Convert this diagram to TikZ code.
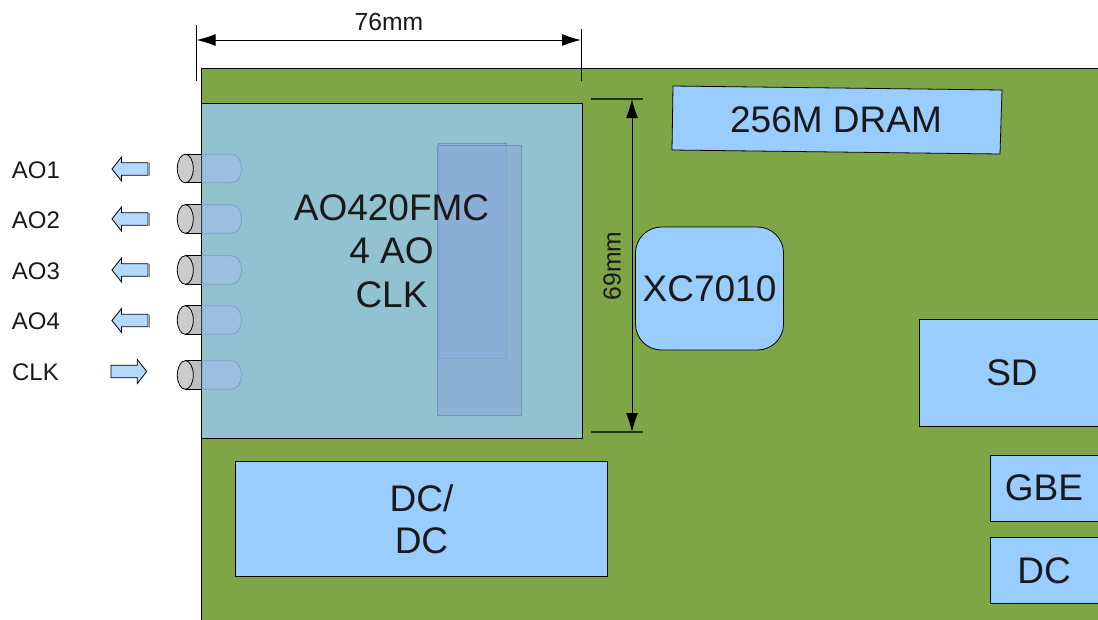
\documentclass[tikz,border=0pt]{standalone}
\usepackage{fontspec}
\setmainfont{Liberation Sans}
\usetikzlibrary{arrows.meta,shapes.arrows}
\definecolor{board}{HTML}{7EA646}
\definecolor{chip}{HTML}{99CCFF}
\definecolor{module}{HTML}{92C1CF}
\definecolor{tubein}{HTML}{9CBFE0}
\definecolor{tubeedge}{HTML}{7F9FC8}
\definecolor{arrowfill}{HTML}{B3D9FF}
\definecolor{overlay}{HTML}{8AADD6}
\tikzset{
  x=1pt,y=-1pt,
  every node/.style={outer sep=0pt},
  chipbox/.style={draw=black,line width=0.8pt,fill=chip,inner sep=0pt,align=center,font=\fontsize{37}{42}\selectfont,text=black!90},
  bigtext/.style={font=\fontsize{37}{42}\selectfont,text=black!90,inner sep=0pt},
  lab/.style={font=\fontsize{24}{28}\selectfont,text=black!90,inner sep=0pt},
  dimlab/.style={font=\fontsize{24.7}{28}\selectfont,text=black!90,inner sep=0pt},
  dimline/.style={line width=0.9pt,{Latex[length=19pt,width=12pt]}-{Latex[length=19pt,width=12pt]}},
  extline/.style={line width=1pt,black},
  extdark/.style={line width=1.2pt,black!70!board},
  panel/.style={line width=0.8pt,draw=overlay!85!black,fill=overlay,fill opacity=.7},
  flow/.style={draw=black,line width=0.8pt,fill=arrowfill},
}
\newcommand{\tube}[2]{% name, centre y
  \fill[black!25] (185,#2-14.3) rectangle (202,#2+14.3);
  \draw[line width=0.8pt] (185,#2-14.3) -- (202,#2-14.3) (185,#2+14.3) -- (202,#2+14.3);
  \draw[line width=0.8pt,fill=black!20] (#1) ellipse [x radius=8,y radius=14.3];
}
\newcommand{\tubeinner}[1]{%
  \draw[line width=0.8pt,draw=tubeedge,fill=tubein] (202,#1-14.3) -- (231,#1-14.3) .. controls (245,#1-14.3) and (245,#1+14.3) .. (231,#1+14.3) -- (202,#1+14.3) -- cycle;
}
\newcommand{\flowleft}[1]{%
  \draw[black!45,line width=1pt] (149,#1-6) -- (149,#1+7);
  \draw[flow] (148,#1-6.2) -- (121.5,#1-6.2) -- (121.5,#1-12) -- (112,#1) -- (121.5,#1+12) -- (121.5,#1+6.2) -- (148,#1+6.2) -- cycle;
}
\begin{document}
\begin{tikzpicture}
\useasboundingbox (0,0) rectangle (1098,619);
% board
\node[draw=black,line width=0.9pt,fill=board,minimum width=900pt,minimum height=560pt,anchor=north west,inner sep=0pt] (board) at (201.8,68.6) {};
% chips
\node[chipbox,minimum width=372pt,minimum height=115pt] (dcdc) at (421.5,519) {DC/\\DC};
\node[chipbox,minimum width=180pt,minimum height=107pt,anchor=north west] (sd) at (919,319.6) {};
\node[bigtext] (sdl) at (1012,373) {SD};
\node[chipbox,minimum width=110pt,minimum height=66pt,anchor=north west] (gbe) at (990.8,455) {};
\node[bigtext] (gbel) at (1044,488) {GBE};
\node[chipbox,minimum width=110pt,minimum height=66pt,anchor=north west] (dc) at (990.8,537.6) {};
\node[bigtext] (dcl) at (1044,571) {DC};
\node[chipbox,rounded corners=26pt,minimum width=148pt,minimum height=123pt] (fpga) at (709.5,288.5) {XC7010};
\draw[line width=0.8pt,fill=chip] (673,86) -- (1002,90) -- (1000,154) -- (672,150) -- cycle;
\node[bigtext] (dram) at (836,120) {256M DRAM};
% connectors behind the module
\coordinate (t1) at (185.3,168.5);
\coordinate (t2) at (185.3,219);
\coordinate (t3) at (185.3,270);
\coordinate (t4) at (185.3,320);
\coordinate (t5) at (185.3,375);
\tube{t1}{168.5}\tube{t2}{219}\tube{t3}{270}\tube{t4}{320}\tube{t5}{375}
% module
\node[draw=black,line width=0.9pt,fill=module,minimum width=380.3pt,minimum height=334.4pt,anchor=north west,inner sep=0pt] (mod) at (201.8,103.6) {};
\tubeinner{168.5}\tubeinner{219}\tubeinner{270}\tubeinner{320}\tubeinner{375}
% FMC overlays
\node[panel,minimum width=68pt,minimum height=215pt,anchor=north west,inner sep=0pt] (fmca) at (438,143.5) {};
\node[panel,minimum width=84.5pt,minimum height=270.5pt,anchor=north west,inner sep=0pt] (fmcb) at (437,145) {};
\node[font=\fontsize{37}{43.5}\selectfont,text=black!90,align=center,inner sep=0pt] (modl) at (391.5,251) {AO420FMC\\4 AO\\CLK};
% left labels
\node[lab] (ao1) at (36,170) {AO1};
\node[lab] (ao2) at (36,220) {AO2};
\node[lab] (ao3) at (36,271) {AO3};
\node[lab] (ao4) at (36,321) {AO4};
\node[lab] (clk) at (35.5,372) {CLK};
\flowleft{169}\flowleft{219}\flowleft{270}\flowleft{320.5}
\draw[flow] (111,365.2) -- (137.3,365.2) -- (137.3,359.5) -- (146.7,371.5) -- (137.3,383.5) -- (137.3,377.8) -- (111,377.8) -- cycle;
% dimensions
\coordinate (wt) at (196.6,25);
\coordinate (wb) at (196.6,81);
\coordinate (wrt) at (581,29);
\coordinate (wrb) at (581,81);
\coordinate (wa) at (196.6,40);
\coordinate (wc) at (581,40);
\draw[extline] (wt) -- (wb);
\draw[extline] (wrt) -- (wrb);
\draw[dimline] (wa) -- (wc);
\node[dimlab] (w) at (389,22) {76mm};
\coordinate (ha) at (591,99);
\coordinate (hb) at (643,99);
\coordinate (hc) at (591,432);
\coordinate (hd) at (643,432);
\draw[extdark] (ha) -- (hb);
\draw[extdark] (hc) -- (hd);
\coordinate (h1) at (632,99);
\coordinate (h2) at (632,432);
\draw[dimline] (h1) -- (h2);
\node[dimlab,rotate=90] (h) at (612,266) {69mm};
\end{tikzpicture}
\end{document}
